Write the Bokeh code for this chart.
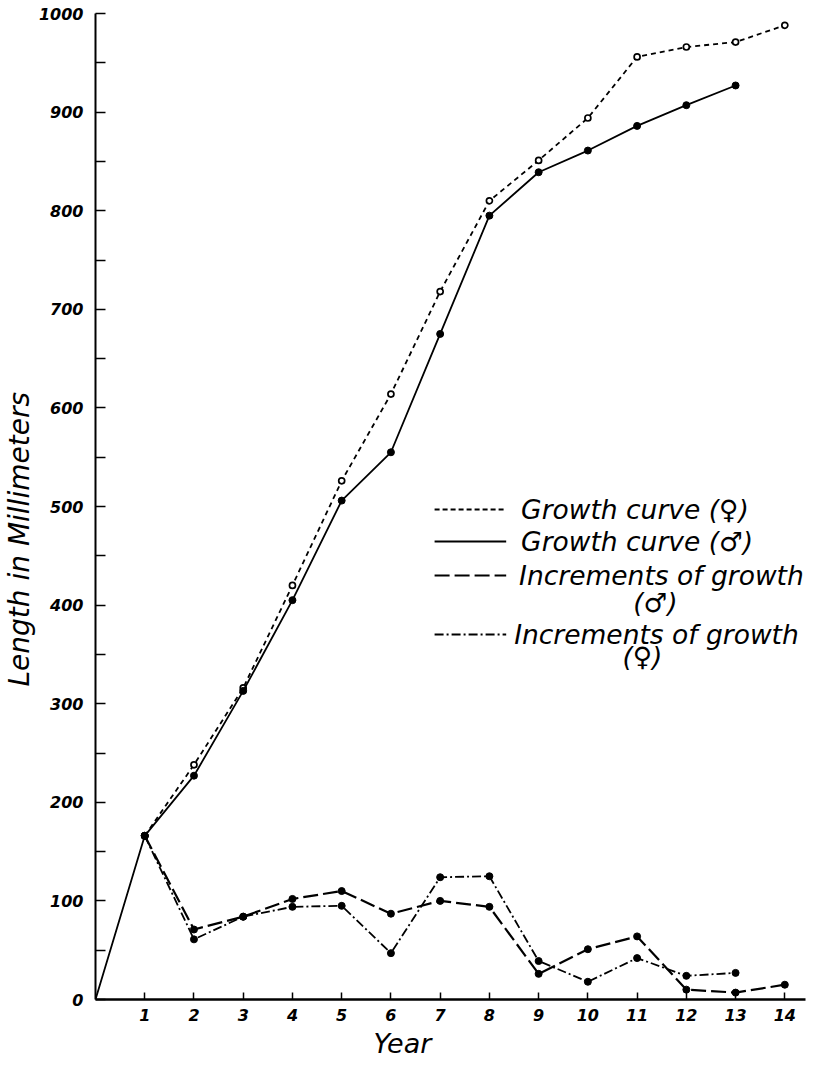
from bokeh.plotting import figure
from bokeh.models import Range1d, FixedTicker, Label, Arrow, Title
from bokeh.embed import file_html
from bokeh.resources import INLINE

# ---- data ----
years_female_growth = [1, 2, 3, 4, 5, 6, 7, 8, 9, 10, 11, 12, 13, 14]
female_growth = [166, 238, 316, 420, 526, 614, 718, 810, 851, 894, 956, 966, 971, 988]

years_male_growth = [0, 1, 2, 3, 4, 5, 6, 7, 8, 9, 10, 11, 12, 13]
male_growth = [0, 166, 227, 313, 405, 506, 555, 675, 795, 839, 861, 886, 907, 927]

years_male_incr = [1, 2, 3, 4, 5, 6, 7, 8, 9, 10, 11, 12, 13, 14]
male_increments = [166, 71, 84, 102, 110, 87, 100, 94, 26, 51, 64, 10, 7, 15]

years_female_incr = [1, 2, 3, 4, 5, 6, 7, 8, 9, 10, 11, 12, 13]
female_increments = [166, 61, 84, 94, 95, 47, 124, 125, 39, 18, 42, 24, 27]

x_ticks = [1, 2, 3, 4, 5, 6, 7, 8, 9, 10, 11, 12, 13, 14]
y_ticks = [0, 100, 200, 300, 400, 500, 600, 700, 800, 900, 1000]
y_minor_ticks = [50, 150, 250, 350, 450, 550, 650, 750, 850, 950]

legend_labels = ["Growth curve (\u2640)", "Growth curve (\u2642)",
                 "Increments of growth", "Increments of growth"]
legend_sub = ["(\u2642)", "(\u2640)"]

# ---- layout ----
FONT = "DejaVu Sans"
X_MAX = 14.42
FRAME_L, FRAME_R, FRAME_T, FRAME_B = 94, 808, 14, 1000

p = figure(width=807, height=1061,
           x_range=Range1d(0, X_MAX), y_range=Range1d(0, 1000),
           output_backend="svg", toolbar_location=None,
           min_border_left=91, min_border_right=2,
           min_border_top=13, min_border_bottom=62)
p.grid.visible = False
p.outline_line_color = None
p.background_fill_color = "white"


def dx(px):
    return (px - FRAME_L) * X_MAX / (FRAME_R - FRAME_L)


def dy(py):
    return (FRAME_B - py) * 1000 / (FRAME_B - FRAME_T)


# axes
p.xaxis.ticker = FixedTicker(ticks=x_ticks)
p.xaxis.major_tick_in = 7
p.xaxis.major_tick_out = 0
p.xaxis.minor_tick_line_color = None
p.xaxis.axis_line_width = 2.5
p.xaxis.major_tick_line_width = 1.5
p.xaxis.major_label_text_font = FONT
p.xaxis.major_label_text_font_style = "bold italic"
p.xaxis.major_label_text_font_size = "16px"
p.xaxis.major_label_text_color = "black"
p.xaxis.major_label_standoff = 9

p.yaxis.ticker = FixedTicker(ticks=y_ticks, minor_ticks=y_minor_ticks)
p.yaxis.major_tick_in = 10
p.yaxis.major_tick_out = 0
p.yaxis.minor_tick_in = 10
p.yaxis.minor_tick_out = 0
p.yaxis.axis_line_width = 2
p.yaxis.major_tick_line_width = 1.5
p.yaxis.minor_tick_line_width = 1.5
p.yaxis.minor_tick_line_color = "black"
p.yaxis.major_label_text_font = FONT
p.yaxis.major_label_text_font_style = "bold italic"
p.yaxis.major_label_text_font_size = "16px"
p.yaxis.major_label_text_color = "black"
p.yaxis.major_label_standoff = 12

# axis titles placed like the hand-lettered originals
p.add_layout(Title(text="Length in Millimeters", align="left", offset=313,
                   text_font=FONT, text_font_style="italic",
                   text_font_size="28px", text_color="black",
                   standoff=0), "left")
p.add_layout(Title(text="Year", align="left", offset=278,
                   text_font=FONT, text_font_style="italic",
                   text_font_size="27px", text_color="black",
                   standoff=5), "below")

# series
p.line(years_female_growth, female_growth, line_color="black",
       line_width=1.8, line_dash="5 4")
p.scatter(years_female_growth, female_growth, size=6, fill_color="white",
          line_color="black", line_width=1.7)

p.line(years_male_growth, male_growth, line_color="black", line_width=1.8)
p.scatter(years_male_growth[1:], male_growth[1:], size=7, fill_color="black",
          line_color="black")

p.line(years_male_incr, male_increments, line_color="black",
       line_width=2.2, line_dash="15 5")
p.scatter(years_male_incr, male_increments, size=7, fill_color="black",
          line_color="black")

p.line(years_female_incr, female_increments, line_color="black",
       line_width=1.8, line_dash="9 3 2 3")
p.scatter(years_female_incr, female_increments, size=7, fill_color="black",
          line_color="black")

# legend (hand-made, like the reference)
rows_y = [510, 542, 576, 635]
sample_dash = ["5 3", "solid", "15 5", "9 3 2 3"]
sample_w = [1.8, 1.8, 2.2, 1.8]
text_x = [522, 522, 520, 515]
for i in range(4):
    p.add_layout(Arrow(end=None, x_start=dx(435), y_start=dy(rows_y[i]),
                       x_end=dx(507), y_end=dy(rows_y[i]),
                       line_color="black", line_width=sample_w[i],
                       line_dash=sample_dash[i]))
    p.add_layout(Label(x=dx(text_x[i]), y=dy(rows_y[i]), text=legend_labels[i],
                       text_font=FONT, text_font_style="italic",
                       text_font_size="26.5px", text_baseline="middle",
                       text_align="left", text_color="black"))
for sx, sy, t in [(657, 603, legend_sub[0]), (644, 657, legend_sub[1])]:
    p.add_layout(Label(x=dx(sx), y=dy(sy), text=t, text_font=FONT,
                       text_font_style="italic", text_font_size="26.5px",
                       text_baseline="middle", text_align="center",
                       text_color="black"))

open("out.html", "w").write(file_html(p, INLINE))
